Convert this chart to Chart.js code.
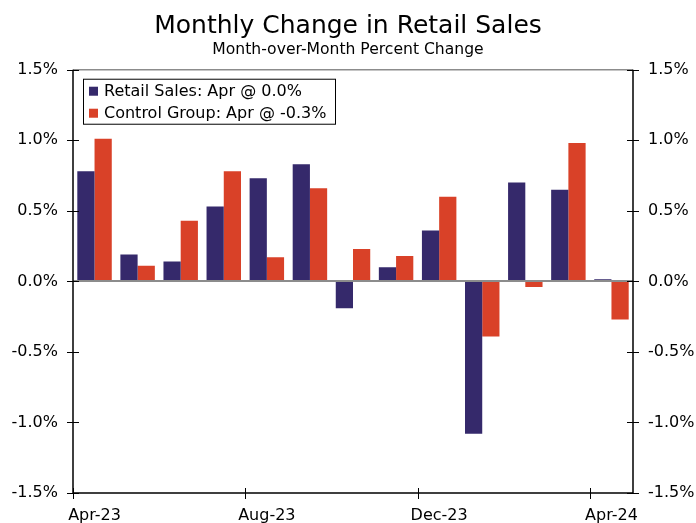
<!DOCTYPE html>
<html>
<head>
<meta charset="utf-8">
<script src="https://cdn.jsdelivr.net/npm/chart.js@4.4.1/dist/chart.umd.min.js"></script>
<style>
html,body{margin:0;padding:0;background:#fff;}
canvas{display:block;}
</style>
</head>
<body>
<canvas id="c" width="696" height="523"></canvas>
<script>
const months = ['Apr-23','May-23','Jun-23','Jul-23','Aug-23','Sep-23','Oct-23','Nov-23','Dec-23','Jan-24','Feb-24','Mar-24','Apr-24'];
const retailSales = [0.78, 0.19, 0.14, 0.53, 0.73, 0.83, -0.19, 0.10, 0.36, -1.08, 0.70, 0.65, 0.015];
const controlGroup = [1.01, 0.11, 0.43, 0.78, 0.17, 0.66, 0.23, 0.18, 0.60, -0.39, -0.04, 0.98, -0.27];
const seriesNames = ['Retail Sales: Apr @ 0.0%', 'Control Group: Apr @ -0.3%'];
const yTicks = [-1.5, -1.0, -0.5, 0.0, 0.5, 1.0, 1.5];

const NAVY = '#35296B';
const RED = '#D94128';
const FONT = "'DejaVu Sans', Verdana, sans-serif";

const decor = {
  id: 'decor',
  afterDatasetsDraw(chart) {
    const ctx = chart.ctx, a = chart.chartArea;
    const y = chart.scales.y, x = chart.scales.x;
    ctx.save();
    // zero line & top line (gray)
    ctx.strokeStyle = '#8c8c8c';
    ctx.lineWidth = 2;
    const z = Math.round(y.getPixelForValue(0));
    ctx.beginPath(); ctx.moveTo(a.left, z); ctx.lineTo(a.right, z); ctx.stroke();
    ctx.lineWidth = 1.5;
    ctx.beginPath(); ctx.moveTo(a.left, a.top); ctx.lineTo(a.right, a.top); ctx.stroke();
    // axes lines
    ctx.strokeStyle = '#000';
    ctx.lineWidth = 1.5;
    ctx.beginPath();
    ctx.moveTo(a.left, a.top); ctx.lineTo(a.left, a.bottom); ctx.lineTo(a.right, a.bottom); ctx.lineTo(a.right, a.top);
    ctx.stroke();
    // y tick marks crossing both axes
    ctx.lineWidth = 1;
    yTicks.forEach(v => {
      const py = Math.round(y.getPixelForValue(v)) + 0.5;
      ctx.beginPath();
      ctx.moveTo(a.left - 6, py); ctx.lineTo(a.left + 6, py);
      ctx.moveTo(a.right - 6, py); ctx.lineTo(a.right + 6, py);
      ctx.stroke();
    });
    // x tick marks at category boundaries every 4 months
    const cw = (a.right - a.left) / months.length;
    months.forEach((m, i) => {
      if (i % 4 !== 0) return;
      const px = Math.round(x.getPixelForValue(i) - cw / 2) + 0.5;
      ctx.beginPath(); ctx.moveTo(px, a.bottom - 5); ctx.lineTo(px, a.bottom + 6); ctx.stroke();
    });
    // legend box
    const lx = a.left + 10, ly = a.top + 9, lw = 252, lh = 45;
    ctx.fillStyle = '#fff';
    ctx.fillRect(lx, ly, lw, lh);
    ctx.strokeStyle = '#000';
    ctx.lineWidth = 1;
    ctx.strokeRect(lx + 0.5, ly + 0.5, lw, lh);
    ctx.font = "16px " + FONT;
    ctx.textBaseline = 'middle';
    ctx.textAlign = 'left';
    [NAVY, RED].forEach((col, k) => {
      const cy = ly + 12 + k * 22;
      ctx.fillStyle = col;
      ctx.fillRect(lx + 6, cy - 4, 9, 9);
      ctx.fillStyle = '#000';
      ctx.fillText(seriesNames[k], lx + 21, cy + 1);
    });
    ctx.restore();
  }
};

new Chart(document.getElementById('c'), {
  type: 'bar',
  data: {
    labels: months,
    datasets: [
      { label: seriesNames[0], data: retailSales, backgroundColor: NAVY, borderWidth: 0, categoryPercentage: 0.8, barPercentage: 1.0, yAxisID: 'y' },
      { label: seriesNames[1], data: controlGroup, backgroundColor: RED, borderWidth: 0, categoryPercentage: 0.8, barPercentage: 1.0, yAxisID: 'y' }
    ]
  },
  options: {
    responsive: false,
    animation: false,
    devicePixelRatio: 1,
    layout: { padding: { left: 0, right: 0, top: 0, bottom: 0 } },
    plugins: {
      legend: { display: false },
      tooltip: { enabled: false },
      title: {
        display: true,
        text: 'Monthly Change in Retail Sales',
        color: '#000',
        font: { family: FONT, size: 25, weight: 'normal', lineHeight: 1.2 },
        padding: { top: 11, bottom: 0 }
      },
      subtitle: {
        display: true,
        text: 'Month-over-Month Percent Change',
        color: '#000',
        font: { family: FONT, size: 15.6, weight: 'normal', lineHeight: 1.2 },
        padding: { top: 0, bottom: 10 }
      }
    },
    scales: {
      x: {
        grid: { display: false, drawTicks: false },
        border: { display: false },
        ticks: {
          autoSkip: false, maxRotation: 0, minRotation: 0, padding: 13,
          color: '#000', font: { family: FONT, size: 16 },
          callback: function(v, i) { return i % 4 === 0 ? months[i] : ''; }
        },
        afterFit(s) { s.height = 30; }
      },
      y: {
        position: 'left', min: -1.5, max: 1.5,
        grid: { display: false, drawTicks: false },
        border: { display: false },
        ticks: {
          stepSize: 0.5, padding: 15, color: '#000', font: { family: FONT, size: 16 },
          callback: v => v.toFixed(1) + '%'
        },
        afterFit(s) { s.width = 73; }
      },
      y2: {
        position: 'right', min: -1.5, max: 1.5,
        grid: { display: false, drawTicks: false },
        border: { display: false },
        ticks: {
          stepSize: 0.5, padding: 15, color: '#000', font: { family: FONT, size: 16 },
          callback: v => v.toFixed(1) + '%'
        },
        afterFit(s) { s.width = 63; }
      }
    }
  },
  plugins: [decor]
});
</script>
</body>
</html>
